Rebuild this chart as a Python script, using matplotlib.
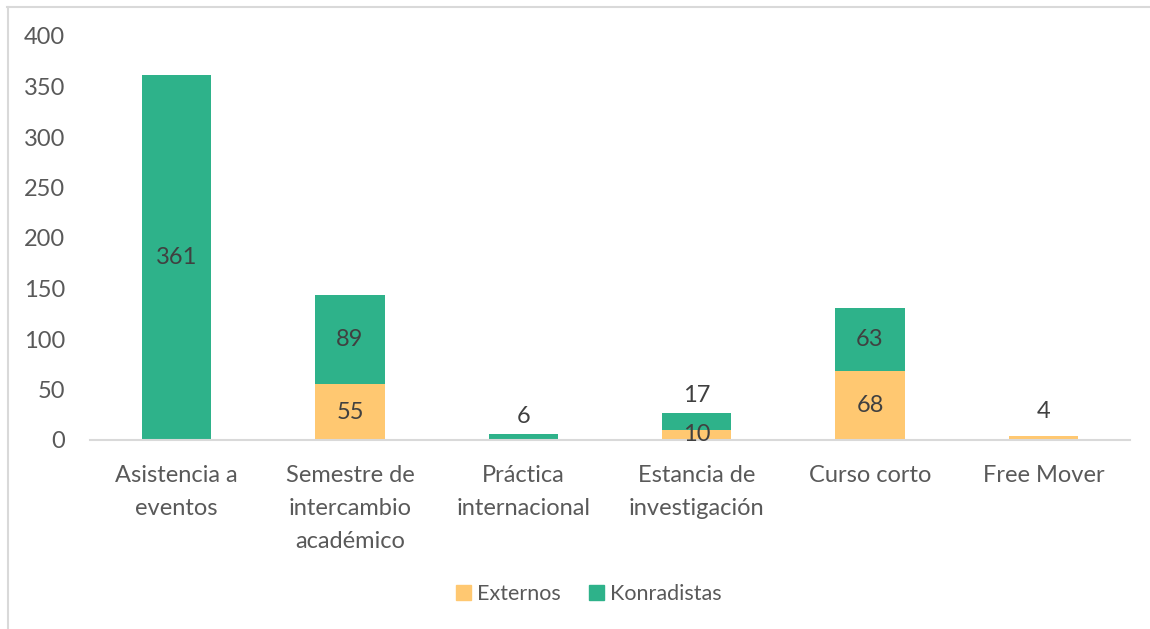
import matplotlib.pyplot as plt
from matplotlib.lines import Line2D
from matplotlib.patches import Patch

plt.rcParams['font.family'] = ['Lato', 'DejaVu Sans']

categories = ["Asistencia a\neventos", "Semestre de\nintercambio\nacadémico",
              "Práctica\ninternacional", "Estancia de\ninvestigación",
              "Curso corto", "Free Mover"]
externos = [0, 55, 0, 10, 68, 4]
konradistas = [361, 89, 6, 17, 63, 0]
yticks = [0, 50, 100, 150, 200, 250, 300, 350, 400]

c_ext = "#FFC871"
c_kon = "#2EB28A"
txt = "#595959"
lbl = "#404040"

fig = plt.figure(figsize=(11.5, 6.29), dpi=100)
ax = fig.add_axes([90 / 1150, 1 - 440 / 629, 1040 / 1150, 404 / 629])

x = list(range(len(categories)))
ax.bar(x, externos, width=0.4, color=c_ext, label="Externos")
ax.bar(x, konradistas, width=0.4, bottom=externos, color=c_kon, label="Konradistas")

# data labels: centred, or above the stack when the top segment is small
for i in x:
    e, k = externos[i], konradistas[i]
    if e > 0:
        if k == 0 and e < 20:
            ax.annotate(str(e), (i, e), xytext=(0, 10), textcoords="offset points",
                        ha="center", va="bottom", fontsize=17, color=lbl)
        else:
            ax.text(i, e / 2, str(e), ha="center", va="center", fontsize=17, color=lbl)
    if k > 0:
        if k < 20:
            ax.annotate(str(k), (i, e + k), xytext=(0, 5), textcoords="offset points",
                        ha="center", va="bottom", fontsize=17, color=lbl)
        else:
            ax.text(i, e + k / 2, str(k), ha="center", va="center", fontsize=17, color=lbl)

ax.set_xlim(-0.5, 5.5)
ax.set_ylim(0, 400)
ax.set_yticks(yticks)
ax.set_xticks(x)
ax.set_xticklabels(categories, linespacing=1.72)
ax.tick_params(axis="both", length=0, labelsize=17, colors=txt)
ax.tick_params(axis="x", pad=18)
ax.tick_params(axis="y", pad=18)
for s in ["top", "right", "left"]:
    ax.spines[s].set_visible(False)
ax.spines["bottom"].set_color("#D9D9D9")
ax.spines["bottom"].set_linewidth(1.5)

handles = [Patch(color=c_ext, label="Externos"), Patch(color=c_kon, label="Konradistas")]
fig.legend(handles=handles, loc="center", bbox_to_anchor=(0.512, 1 - 594 / 629), ncol=2,
           frameon=False, fontsize=15.5, labelcolor=txt, handlelength=0.7,
           handleheight=0.7, handletextpad=0.3, columnspacing=1.3)

# chart border
fig.add_artist(Line2D([7 / 1150, 1], [1 - 6.5 / 629] * 2, color="#D9D9D9", lw=1.5,
                      transform=fig.transFigure))
fig.add_artist(Line2D([7.5 / 1150] * 2, [0, 1 - 6.5 / 629], color="#D9D9D9", lw=1.5,
                      transform=fig.transFigure))

fig.savefig("out.png", dpi=100)
